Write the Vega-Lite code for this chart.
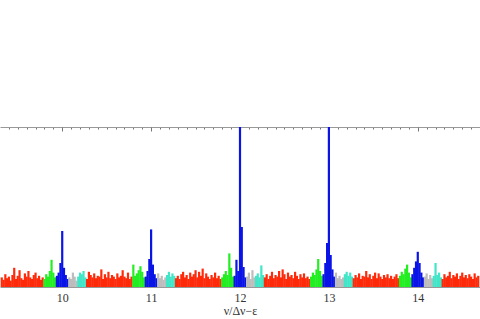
{
"$schema":"https://vega.github.io/schema/vega-lite/v6.json",
"width":480,"height":160,
"autosize":{"type":"none"},
"padding":{"left":0,"top":127,"right":0,"bottom":32},
"background":"white",
"config":{"view":{"stroke":null}},
"data":{"values":[
{"x":9.32,"y":1.2,"l":"1"},{"x":9.34,"y":0.9,"l":"1"},{"x":9.36,"y":1.6,"l":"1"},{"x":9.38,"y":1.1,"l":"1"},{"x":9.40,"y":1.3,"l":"1"},{"x":9.42,"y":0.8,"l":"1"},{"x":9.44,"y":1.5,"l":"1"},{"x":9.46,"y":2.4,"l":"1"},{"x":9.48,"y":1.0,"l":"1"},{"x":9.50,"y":1.4,"l":"1"},{"x":9.52,"y":2.1,"l":"1"},{"x":9.54,"y":1.1,"l":"1"},{"x":9.56,"y":0.9,"l":"1"},{"x":9.58,"y":1.7,"l":"1"},{"x":9.60,"y":1.3,"l":"1"},{"x":9.62,"y":2.0,"l":"1"},{"x":9.64,"y":1.2,"l":"1"},{"x":9.66,"y":1.0,"l":"1"},{"x":9.68,"y":1.5,"l":"1"},{"x":9.70,"y":1.8,"l":"1"},{"x":9.72,"y":1.1,"l":"1"},{"x":9.74,"y":1.4,"l":"1"},{"x":9.76,"y":0.9,"l":"1"},{"x":9.78,"y":1.2,"l":"1"},
{"x":9.80,"y":1.0,"l":"2"},{"x":9.82,"y":1.6,"l":"2"},{"x":9.84,"y":1.3,"l":"2"},{"x":9.86,"y":2.0,"l":"2"},{"x":9.88,"y":3.4,"l":"2"},{"x":9.90,"y":1.8,"l":"2"},{"x":9.92,"y":1.2,"l":"2"},
{"x":9.94,"y":1.4,"l":"0"},{"x":9.96,"y":1.8,"l":"0"},{"x":9.98,"y":3.0,"l":"0"},{"x":10.00,"y":7.0,"l":"0"},{"x":10.02,"y":2.4,"l":"0"},{"x":10.04,"y":1.5,"l":"0"},{"x":10.06,"y":1.0,"l":"0"},
{"x":10.08,"y":1.2,"l":"x"},{"x":10.10,"y":1.0,"l":"x"},{"x":10.12,"y":1.8,"l":"x"},{"x":10.14,"y":1.3,"l":"x"},{"x":10.16,"y":0.8,"l":"x"},
{"x":10.18,"y":1.3,"l":"3"},{"x":10.20,"y":1.8,"l":"3"},{"x":10.22,"y":1.6,"l":"3"},{"x":10.24,"y":2.0,"l":"3"},{"x":10.26,"y":1.2,"l":"3"},
{"x":10.28,"y":1.0,"l":"1"},{"x":10.30,"y":1.9,"l":"1"},{"x":10.32,"y":1.5,"l":"1"},{"x":10.34,"y":1.2,"l":"1"},{"x":10.36,"y":1.7,"l":"1"},{"x":10.38,"y":1.1,"l":"1"},{"x":10.40,"y":1.4,"l":"1"},{"x":10.42,"y":1.3,"l":"1"},{"x":10.44,"y":2.2,"l":"1"},{"x":10.46,"y":1.0,"l":"1"},{"x":10.48,"y":1.6,"l":"1"},{"x":10.50,"y":1.2,"l":"1"},{"x":10.52,"y":1.9,"l":"1"},{"x":10.54,"y":1.1,"l":"1"},{"x":10.56,"y":1.5,"l":"1"},{"x":10.58,"y":1.3,"l":"1"},{"x":10.60,"y":1.0,"l":"1"},{"x":10.62,"y":1.7,"l":"1"},{"x":10.64,"y":1.2,"l":"1"},{"x":10.66,"y":1.4,"l":"1"},{"x":10.68,"y":2.1,"l":"1"},{"x":10.70,"y":1.3,"l":"1"},{"x":10.72,"y":1.1,"l":"1"},{"x":10.74,"y":1.8,"l":"1"},{"x":10.76,"y":1.0,"l":"1"},{"x":10.78,"y":1.3,"l":"1"},
{"x":10.80,"y":2.8,"l":"2"},{"x":10.82,"y":1.4,"l":"2"},{"x":10.84,"y":1.7,"l":"2"},{"x":10.86,"y":2.1,"l":"2"},{"x":10.88,"y":2.6,"l":"2"},{"x":10.90,"y":1.9,"l":"2"},{"x":10.92,"y":1.2,"l":"2"},
{"x":10.94,"y":1.3,"l":"0"},{"x":10.96,"y":2.0,"l":"0"},{"x":10.98,"y":3.5,"l":"0"},{"x":11.00,"y":7.2,"l":"0"},{"x":11.02,"y":2.8,"l":"0"},{"x":11.04,"y":1.6,"l":"0"},{"x":11.06,"y":1.1,"l":"0"},
{"x":11.08,"y":1.7,"l":"x"},{"x":11.10,"y":1.1,"l":"x"},{"x":11.12,"y":1.4,"l":"x"},{"x":11.14,"y":0.9,"l":"x"},{"x":11.16,"y":1.2,"l":"x"},
{"x":11.18,"y":1.5,"l":"3"},{"x":11.20,"y":1.9,"l":"3"},{"x":11.22,"y":1.3,"l":"3"},{"x":11.24,"y":1.7,"l":"3"},{"x":11.26,"y":1.4,"l":"3"},
{"x":11.28,"y":1.1,"l":"1"},{"x":11.30,"y":1.4,"l":"1"},{"x":11.32,"y":1.0,"l":"1"},{"x":11.34,"y":1.6,"l":"1"},{"x":11.36,"y":1.9,"l":"1"},{"x":11.38,"y":1.2,"l":"1"},{"x":11.40,"y":1.5,"l":"1"},{"x":11.42,"y":1.0,"l":"1"},{"x":11.44,"y":1.8,"l":"1"},{"x":11.46,"y":1.3,"l":"1"},{"x":11.48,"y":1.6,"l":"1"},{"x":11.50,"y":2.1,"l":"1"},{"x":11.52,"y":1.2,"l":"1"},{"x":11.54,"y":1.9,"l":"1"},{"x":11.56,"y":1.4,"l":"1"},{"x":11.58,"y":2.3,"l":"1"},{"x":11.60,"y":1.1,"l":"1"},{"x":11.62,"y":1.7,"l":"1"},{"x":11.64,"y":1.3,"l":"1"},{"x":11.66,"y":1.0,"l":"1"},{"x":11.68,"y":1.5,"l":"1"},{"x":11.70,"y":1.2,"l":"1"},{"x":11.72,"y":1.8,"l":"1"},{"x":11.74,"y":1.1,"l":"1"},{"x":11.76,"y":1.4,"l":"1"},{"x":11.78,"y":1.0,"l":"1"},
{"x":11.80,"y":1.2,"l":"2"},{"x":11.82,"y":1.6,"l":"2"},{"x":11.84,"y":2.0,"l":"2"},{"x":11.86,"y":1.5,"l":"2"},{"x":11.88,"y":4.2,"l":"2"},{"x":11.90,"y":2.4,"l":"2"},{"x":11.92,"y":1.3,"l":"2"},
{"x":11.94,"y":1.4,"l":"0"},{"x":11.96,"y":3.4,"l":"0"},{"x":11.98,"y":2.0,"l":"0"},{"x":12.00,"y":26,"l":"0"},{"x":12.02,"y":7.5,"l":"0"},{"x":12.04,"y":2.5,"l":"0"},{"x":12.06,"y":1.2,"l":"0"},
{"x":12.08,"y":1.3,"l":"x"},{"x":12.10,"y":1.8,"l":"x"},{"x":12.12,"y":1.0,"l":"x"},{"x":12.14,"y":2.1,"l":"x"},{"x":12.16,"y":1.2,"l":"x"},
{"x":12.18,"y":1.4,"l":"3"},{"x":12.20,"y":1.7,"l":"3"},{"x":12.22,"y":1.2,"l":"3"},{"x":12.24,"y":2.7,"l":"3"},{"x":12.26,"y":1.5,"l":"3"},
{"x":12.28,"y":1.2,"l":"1"},{"x":12.30,"y":1.6,"l":"1"},{"x":12.32,"y":1.0,"l":"1"},{"x":12.34,"y":1.4,"l":"1"},{"x":12.36,"y":1.9,"l":"1"},{"x":12.38,"y":1.1,"l":"1"},{"x":12.40,"y":1.5,"l":"1"},{"x":12.42,"y":1.3,"l":"1"},{"x":12.44,"y":2.0,"l":"1"},{"x":12.46,"y":1.2,"l":"1"},{"x":12.48,"y":2.2,"l":"1"},{"x":12.50,"y":1.6,"l":"1"},{"x":12.52,"y":1.0,"l":"1"},{"x":12.54,"y":1.8,"l":"1"},{"x":12.56,"y":1.3,"l":"1"},{"x":12.58,"y":1.5,"l":"1"},{"x":12.60,"y":1.1,"l":"1"},{"x":12.62,"y":1.9,"l":"1"},{"x":12.64,"y":1.4,"l":"1"},{"x":12.66,"y":1.0,"l":"1"},{"x":12.68,"y":1.6,"l":"1"},{"x":12.70,"y":1.2,"l":"1"},{"x":12.72,"y":1.7,"l":"1"},{"x":12.74,"y":1.1,"l":"1"},{"x":12.76,"y":1.3,"l":"1"},{"x":12.78,"y":1.0,"l":"1"},
{"x":12.80,"y":1.3,"l":"2"},{"x":12.82,"y":1.8,"l":"2"},{"x":12.84,"y":1.5,"l":"2"},{"x":12.86,"y":2.2,"l":"2"},{"x":12.88,"y":3.5,"l":"2"},{"x":12.90,"y":2.0,"l":"2"},{"x":12.92,"y":1.4,"l":"2"},
{"x":12.94,"y":1.6,"l":"0"},{"x":12.96,"y":3.0,"l":"0"},{"x":12.98,"y":5.5,"l":"0"},{"x":13.00,"y":26,"l":"0"},{"x":13.02,"y":4.0,"l":"0"},{"x":13.04,"y":2.2,"l":"0"},{"x":13.06,"y":1.3,"l":"0"},
{"x":13.08,"y":1.8,"l":"x"},{"x":13.10,"y":1.1,"l":"x"},{"x":13.12,"y":1.4,"l":"x"},{"x":13.14,"y":1.0,"l":"x"},{"x":13.16,"y":1.2,"l":"x"},
{"x":13.18,"y":1.6,"l":"3"},{"x":13.20,"y":1.9,"l":"3"},{"x":13.22,"y":1.4,"l":"3"},{"x":13.24,"y":1.8,"l":"3"},{"x":13.26,"y":1.3,"l":"3"},
{"x":13.28,"y":1.1,"l":"1"},{"x":13.30,"y":1.5,"l":"1"},{"x":13.32,"y":1.2,"l":"1"},{"x":13.34,"y":1.7,"l":"1"},{"x":13.36,"y":1.0,"l":"1"},{"x":13.38,"y":1.4,"l":"1"},{"x":13.40,"y":1.3,"l":"1"},{"x":13.42,"y":2.0,"l":"1"},{"x":13.44,"y":1.2,"l":"1"},{"x":13.46,"y":1.6,"l":"1"},{"x":13.48,"y":1.0,"l":"1"},{"x":13.50,"y":1.4,"l":"1"},{"x":13.52,"y":1.8,"l":"1"},{"x":13.54,"y":1.1,"l":"1"},{"x":13.56,"y":1.7,"l":"1"},{"x":13.58,"y":1.3,"l":"1"},{"x":13.60,"y":1.0,"l":"1"},{"x":13.62,"y":1.5,"l":"1"},{"x":13.64,"y":1.2,"l":"1"},{"x":13.66,"y":1.6,"l":"1"},{"x":13.68,"y":1.1,"l":"1"},{"x":13.70,"y":1.4,"l":"1"},{"x":13.72,"y":1.0,"l":"1"},{"x":13.74,"y":1.3,"l":"1"},{"x":13.76,"y":1.6,"l":"1"},{"x":13.78,"y":1.1,"l":"1"},
{"x":13.80,"y":1.4,"l":"2"},{"x":13.82,"y":1.9,"l":"2"},{"x":13.84,"y":1.6,"l":"2"},{"x":13.86,"y":2.3,"l":"2"},{"x":13.88,"y":2.8,"l":"2"},{"x":13.90,"y":1.8,"l":"2"},{"x":13.92,"y":1.2,"l":"2"},
{"x":13.94,"y":1.6,"l":"0"},{"x":13.96,"y":2.4,"l":"0"},{"x":13.98,"y":3.2,"l":"0"},{"x":14.00,"y":4.4,"l":"0"},{"x":14.02,"y":3.0,"l":"0"},{"x":14.04,"y":1.8,"l":"0"},{"x":14.06,"y":1.2,"l":"0"},
{"x":14.08,"y":1.3,"l":"x"},{"x":14.10,"y":1.7,"l":"x"},{"x":14.12,"y":1.0,"l":"x"},{"x":14.14,"y":1.5,"l":"x"},{"x":14.16,"y":1.1,"l":"x"},
{"x":14.18,"y":1.4,"l":"3"},{"x":14.20,"y":3.0,"l":"3"},{"x":14.22,"y":1.5,"l":"3"},{"x":14.24,"y":1.8,"l":"3"},{"x":14.26,"y":1.2,"l":"3"},
{"x":14.28,"y":1.0,"l":"1"},{"x":14.30,"y":1.6,"l":"1"},{"x":14.32,"y":1.2,"l":"1"},{"x":14.34,"y":1.4,"l":"1"},{"x":14.36,"y":1.9,"l":"1"},{"x":14.38,"y":1.1,"l":"1"},{"x":14.40,"y":1.5,"l":"1"},{"x":14.42,"y":1.3,"l":"1"},{"x":14.44,"y":1.7,"l":"1"},{"x":14.46,"y":1.0,"l":"1"},{"x":14.48,"y":1.4,"l":"1"},{"x":14.50,"y":1.8,"l":"1"},{"x":14.52,"y":1.2,"l":"1"},{"x":14.54,"y":1.5,"l":"1"},{"x":14.56,"y":1.1,"l":"1"},{"x":14.58,"y":1.6,"l":"1"},{"x":14.60,"y":1.3,"l":"1"},{"x":14.62,"y":1.0,"l":"1"},{"x":14.64,"y":1.7,"l":"1"},{"x":14.66,"y":1.2,"l":"1"},{"x":14.68,"y":1.4,"l":"1"}
]},
"layer":[
{"mark":{"type":"rule","strokeWidth":2.2},
 "encoding":{
  "x":{"field":"x","type":"quantitative","scale":{"domain":[9.3,14.7],"nice":false,"zero":false},
   "axis":{"orient":"bottom","values":[10,11,12,13,14],"format":"d","grid":false,"ticks":false,"domainColor":"#999999","domainWidth":1,
    "labelFont":"Liberation Serif","labelFontSize":12,"labelColor":"#333333","labelPadding":5,
    "title":"ν/Δν−ε","titleFont":"Liberation Serif","titleFontSize":12,"titleFontWeight":"normal","titleColor":"#333333","titlePadding":2}},
  "y":{"field":"y","type":"quantitative","scale":{"domain":[0,20],"clamp":true},"axis":null},
  "y2":{"datum":0},
  "color":{"field":"l","type":"nominal","scale":{"domain":["0","1","2","3","x"],"range":["#0a14e6","#ff2a0a","#22ee22","#40e6c8","#bdbdbd"]},"legend":null}
 }},
{"mark":{"type":"rule","opacity":0},
 "encoding":{"x":{"field":"x","type":"quantitative",
  "axis":{"orient":"top","values":[9.4,9.5,9.6,9.7,9.8,9.9,10.1,10.2,10.3,10.4,10.5,10.6,10.7,10.8,10.9,11.1,11.2,11.3,11.4,11.5,11.6,11.7,11.8,11.9,12.1,12.2,12.3,12.4,12.5,12.6,12.7,12.8,12.9,13.1,13.2,13.3,13.4,13.5,13.6,13.7,13.8,13.9,14.1,14.2,14.3,14.4,14.5,14.6],
   "labels":false,"title":null,"grid":false,"tickSize":-2,"tickColor":"#777777","domainColor":"#999999","domainWidth":1}}}},
{"mark":{"type":"rule","opacity":0},
 "encoding":{"x":{"field":"x","type":"quantitative",
  "axis":{"orient":"top","values":[10,11,12,13,14],
   "labels":false,"title":null,"grid":false,"tickSize":-4,"tickColor":"#777777","domain":false}}}}
],
"resolve":{"axis":{"x":"independent"}}
}
